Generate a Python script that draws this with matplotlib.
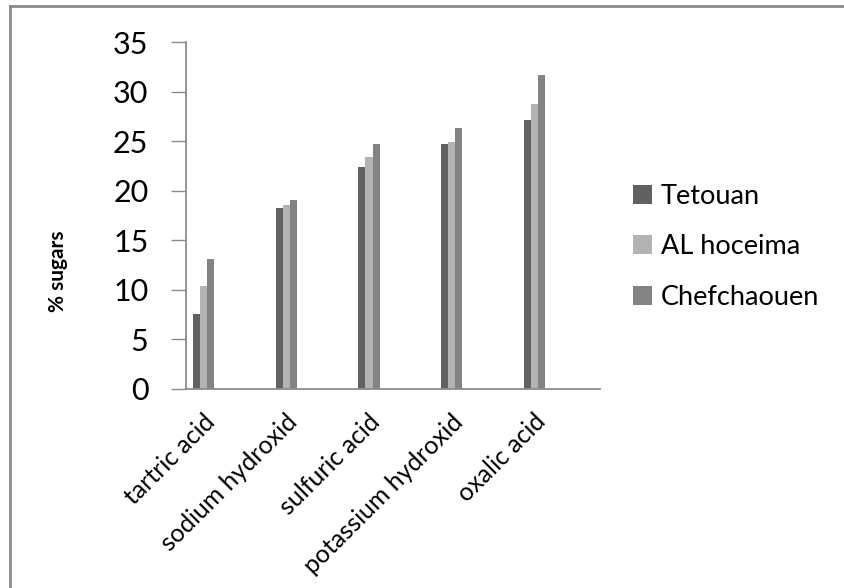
import numpy as np
import matplotlib.pyplot as plt
from matplotlib.lines import Line2D

plt.rcParams['font.family'] = ['Lato', 'DejaVu Sans']

# sugar yield per pretreatment and region
categories = ['tartric acid', 'sodium hydroxid', 'sulfuric acid',
              'potassium hydroxid', 'oxalic acid']
series_names = ['Tetouan', 'AL hoceima', 'Chefchaouen']
tetouan = [7.6, 18.3, 22.4, 24.7, 27.1]
al_hoceima = [10.4, 18.6, 23.4, 24.9, 28.7]
chefchaouen = [13.1, 19.1, 24.7, 26.3, 31.7]
colors = ['#616161', '#b3b3b3', '#838383']

fig = plt.figure(figsize=(8.44, 5.88), dpi=100)
ax = fig.add_axes([186 / 844, 1 - 389 / 588, 414 / 844, 347 / 588])

x = np.arange(len(categories)) - 0.29
w = 0.085
for k, (vals, name) in enumerate(zip([tetouan, al_hoceima, chefchaouen], series_names)):
    ax.bar(x + (k - 1) * w, vals, width=w, color=colors[k], label=name)

ax.set_xlim(-0.5, 4.5)
ax.set_ylim(0, 35)
ax.set_yticks(range(0, 36, 5))
ax.tick_params(axis='y', length=11, width=1, color='#8c8c8c', pad=16, labelsize=22)
ax.set_xticks(x - 0.01)
ax.set_xticklabels(categories, rotation=45, ha='right', rotation_mode='anchor', fontsize=18)
ax.tick_params(axis='x', length=0, pad=15)

for side in ['top', 'right']:
    ax.spines[side].set_visible(False)
for side in ['left', 'bottom']:
    ax.spines[side].set_color('#8c8c8c')
    ax.spines[side].set_linewidth(1.3)

fig.text(58 / 844, 1 - 271 / 588, '% sugars', rotation=90, fontsize=15,
         fontweight='bold', ha='center', va='center')

ax.legend(loc='center left', bbox_to_anchor=(1.02, 0.41), frameon=False,
          fontsize=19.5, handlelength=0.7, handleheight=0.7, handletextpad=0.35,
          labelspacing=0.95)

# frame of the chart area
fig.add_artist(Line2D([10 / 844, 10 / 844], [0, 1 - 6 / 588], color='#8a8a8a', lw=2,
                      transform=fig.transFigure))
fig.add_artist(Line2D([10 / 844, 1], [1 - 6 / 588, 1 - 6 / 588], color='#8a8a8a', lw=2,
                      transform=fig.transFigure))

fig.savefig('out.png', dpi=100)
